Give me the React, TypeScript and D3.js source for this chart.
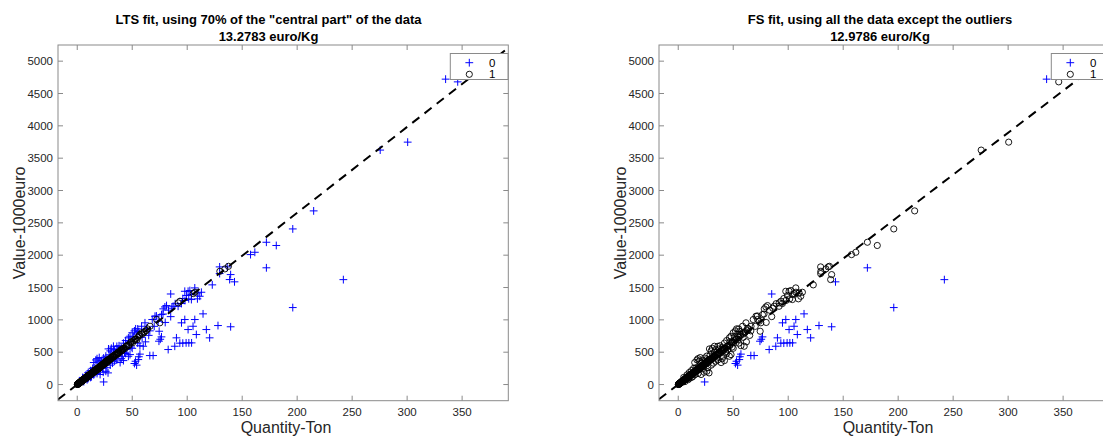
import React from 'react';
import * as d3 from 'd3';

// Quantity (ton), Value (1000 euro) pairs
// points fitted well by both LTS (circles in left) and FS (circles in right)
const centralPoints: [number, number][] = [
  [0.1, 2], [0.2, 2], [0.3, 5], [0.4, 4], [0.5, 8], [0.6, 7], [0.7, 10], [0.8, 9], [0.9, 13], [1.0, 12],
  [1.1, 16], [1.2, 15], [1.4, 17], [1.5, 21], [1.6, 20], [1.8, 22], [1.9, 27], [2.0, 25], [2.2, 30], [2.3, 28],
  [2.5, 35], [2.6, 33], [2.8, 36], [3.0, 42], [3.1, 39], [3.3, 45], [3.5, 44], [3.6, 50], [3.8, 48], [4.0, 55],
  [4.1, 52], [4.3, 59], [4.5, 57], [4.7, 64], [4.9, 62], [5.1, 70], [5.3, 67], [5.5, 75], [5.7, 73], [5.9, 81],
  [6.1, 78], [6.4, 87], [6.6, 84], [6.9, 94], [7.1, 91], [7.4, 100], [7.7, 98], [8.0, 108], [8.2, 104], [8.5, 115],
  [8.8, 112], [9.1, 123], [9.4, 119], [9.7, 131], [10.0, 128], [10.4, 140], [10.7, 136], [11.1, 149], [11.5, 147],
  [11.9, 160], [12.3, 157], [12.7, 171], [13.1, 168], [13.6, 183], [14.0, 180], [14.5, 195], [15.0, 192],
  [15.5, 209], [16.0, 205], [16.5, 222], [17.0, 218], [17.6, 236], [18.2, 233], [18.8, 252], [19.4, 249],
  [20.0, 268], [20.7, 266], [21.4, 287], [22.1, 284], [22.9, 306], [23.7, 304], [24.5, 328], [25.3, 325],
  [26.2, 350], [27.1, 347], [28.0, 374], [29.0, 372], [30.0, 401], [31.0, 398], [32.1, 428], [33.2, 426],
  [34.3, 457], [35.5, 455], [36.7, 488], [38.0, 487], [39.3, 524], [40.7, 522], [42.1, 561], [43.6, 560],
  [45.2, 602], [46.8, 600], [48.5, 646], [50.3, 645], [52.2, 694], [54.2, 693], [56.3, 752], [57.0, 773],
  [58.5, 799], [60.4, 800], [62.7, 833], [66.2, 901], [72.2, 1005], [75.1, 954], [91.8, 1263], [93.4, 1288],
  [105.5, 1406], [107.0, 1427], [129.7, 1751], [134.3, 1788], [137.5, 1828],
  [3.0, 36], [5.0, 60], [8.0, 95], [10.0, 120], [12.0, 150], [15.0, 185], [18.0, 225], [20.0, 255],
  [3.0, 48], [6.0, 88], [9.0, 130], [11.0, 155], [14.0, 195], [16.0, 225], [19.0, 265], [22.0, 300],
  [25.0, 345], [28.0, 385], [31.0, 415], [24.0, 310], [27.0, 370], [33.0, 445], [36.0, 470], [40.0, 540],
  [0.5, 5], [1.0, 10], [1.5, 18], [2.0, 22], [2.5, 30], [3.5, 40], [4.0, 48], [4.5, 62], [5.5, 68], [6.0, 72],
  [6.5, 90], [7.0, 85], [7.5, 105], [8.5, 105], [9.0, 110], [9.5, 128], [10.5, 145], [11.0, 140], [12.0, 165],
  [13.0, 175], [13.5, 170], [14.5, 185], [15.5, 200], [16.5, 230], [17.0, 210], [18.5, 245], [19.5, 240],
  [21.0, 285], [21.0, 270], [23.0, 295], [23.0, 315], [25.0, 320], [26.0, 355], [27.0, 340], [29.0, 380],
  [29.0, 395], [30.0, 390], [32.0, 420], [32.0, 435], [34.0, 450], [35.0, 470], [37.0, 480], [37.0, 500],
  [39.0, 510], [41.0, 545], [42.0, 550], [44.0, 585], [45.0, 590], [47.0, 615], [49.0, 660], [51.0, 675],
  [53.0, 705], [55.0, 730], [59.0, 780], [61.0, 815], [64.0, 860],
];

// points flagged by LTS (pluses in left) but kept by FS (circles in right)
const fsOnlyPoints: [number, number][] = [
  [157.6, 2009], [161.5, 2045], [172, 2200], [181, 2150], [196, 2406], [215, 2685], [275.5, 3625],
  [300.5, 3748], [346, 4680],
  [129.5, 1819], [129.5, 1716], [136.4, 1819], [139.5, 1700], [138.6, 1623], [122.8, 1541],
  [106.9, 1494], [102.4, 1453], [99.3, 1376], [103.8, 1391], [109.9, 1417], [112.9, 1427], [111.4, 1365],
  [109.3, 1325], [103.8, 1314], [101.4, 1325], [97.8, 1442], [100.8, 1442],
  [94.7, 1252], [91.7, 1210], [87.2, 1210], [81.2, 1221], [78.2, 1170], [79.7, 1200], [76.6, 1082],
  [73.6, 978], [74.5, 824], [70.7, 1056], [68.2, 1005], [61.6, 954], [58.5, 901], [53.1, 861], [48, 747],
  [46.5, 722], [32.9, 592], [28.4, 551], [50, 800], [55, 860], [52, 830],
  [5, 110], [8, 150], [10, 185], [12, 215], [15, 340], [17, 380], [18, 400], [19, 360], [20, 417], [14, 250],
  [22, 370], [24, 410], [26, 440], [30, 520], [31, 560], [34, 540], [36, 590], [38, 600], [40, 570], [42, 640],
  [44, 680],
  [6, 45], [9, 75], [12, 110], [15, 150], [18, 170], [20.8, 155], [23.6, 190], [26, 205], [28, 180], [30, 300],
  [32, 330], [34, 360], [36, 380], [39, 340], [40, 400], [41, 437], [42, 370], [44, 480], [46.5, 437],
  [48, 463], [45, 540], [50, 560], [55, 640], [57, 600], [60, 592], [62, 660], [65, 760], [80, 960], [85, 1050],
  [10, 95], [13, 120], [16, 260], [21, 330], [23, 250], [25, 380], [27, 260], [29, 460], [33, 500], [35, 410],
  [37, 550], [43, 500], [47, 660], [49, 580], [51, 740], [54, 780], [56, 820], [59, 730], [63, 870], [66, 830],
  [70, 900], [72, 1060], [78, 1090], [83, 1150], [86, 1180], [89, 1250], [96, 1330], [98, 1300],
];

// points flagged as outliers by both fits (pluses in both panels)
const outlierPoints: [number, number][] = [
  [24, 40], [85, 1400], [52, 325], [53, 360], [55.5, 386], [56, 430], [57, 470], [54, 300], [66, 448], [69, 448],
  [74.3, 670], [75.5, 700], [76.6, 737], [82.7, 541], [88.7, 592], [90.2, 722], [93.3, 640], [96, 640],
  [99, 644], [101.5, 644], [104, 644], [94.8, 954], [97.8, 1005], [106.9, 1005], [100.8, 850], [105.3, 901],
  [108.3, 773], [114.4, 1093], [117.4, 850], [120.4, 722], [128, 912], [139.5, 893], [143, 1588],
  [172, 1805], [196, 1190], [242, 1622], [335, 4722],
];

const ltsSlope = 13.2783;
const fsSlope = 12.9786;
const ltsTitle = ['LTS fit, using 70% of the "central part" of the data', '13.2783 euro/Kg'];
const fsTitle = ['FS fit, using all the data except the outliers', '12.9786 euro/Kg'];
const xTicks = [0, 50, 100, 150, 200, 250, 300, 350];
const yTicks = [0, 500, 1000, 1500, 2000, 2500, 3000, 3500, 4000, 4500, 5000];
const legendLabels = ['0', '1'];
const xLabel = 'Quantity-Ton';
const yLabel = 'Value-1000euro';
const xDomain = [-17.5, 392];
const yDomain = [-250, 5250];

const FONT = '"Liberation Sans", Arial, Helvetica, sans-serif';
const AXIS = '#8a8a8a';
const TEXT = '#262626';
const BLUE = '#0000ff';

type PanelProps = {
  id: string;
  left: number;
  right: number;
  titleX: number;
  xLabelX: number;
  title: string[];
  slope: number;
  pluses: [number, number][];
  circles: [number, number][];
};

function Plus({ x, y }: { x: number; y: number }) {
  const s = 3.9;
  return (
    <path d={`M${x - s},${y}H${x + s}M${x},${y - s}V${y + s}`} stroke={BLUE} strokeWidth={1} fill="none" />
  );
}

function Panel({ id, left, right, titleX, xLabelX, title, slope, pluses, circles }: PanelProps) {
  const top = 45;
  const bottom = 400.7;
  const x = d3.scaleLinear().domain(xDomain).range([left, right]);
  const y = d3.scaleLinear().domain(yDomain).range([bottom, top]);
  const lineGen = d3
    .line<number>()
    .x((q) => x(q))
    .y((q) => y(q * slope));
  const tick = 5;
  const lx = right - 58;
  return (
    <g>
      <defs>
        <clipPath id={id}>
          <rect x={left} y={top} width={right - left} height={bottom - top} />
        </clipPath>
      </defs>
      <rect x={left} y={top} width={right - left} height={bottom - top} fill="#fff" stroke="none" />
      <g clipPath={`url(#${id})`}>
        {pluses.map((p, i) => (
          <Plus key={'p' + i} x={x(p[0])} y={y(p[1])} />
        ))}
        {circles.map((p, i) => (
          <circle key={'c' + i} cx={x(p[0])} cy={y(p[1])} r={3.1} fill="none" stroke="#000" strokeWidth={0.9} />
        ))}
        <path
          d={lineGen(xDomain) || ''}
          stroke="#000"
          strokeWidth={2}
          strokeDasharray="9 6.5"
          fill="none"
        />
      </g>
      <rect x={left} y={top} width={right - left} height={bottom - top} fill="none" stroke={AXIS} strokeWidth={1} />
      {xTicks.map((t) => (
        <g key={'xt' + t}>
          <line x1={x(t)} x2={x(t)} y1={bottom} y2={bottom - tick} stroke={AXIS} />
          <line x1={x(t)} x2={x(t)} y1={top} y2={top + tick} stroke={AXIS} />
          <text x={x(t)} y={416} textAnchor="middle" fontSize={11.5} fill={TEXT} fontFamily={FONT}>
            {t}
          </text>
        </g>
      ))}
      {yTicks.map((t) => (
        <g key={'yt' + t}>
          <line x1={left} x2={left + tick} y1={y(t)} y2={y(t)} stroke={AXIS} />
          <line x1={right} x2={right - tick} y1={y(t)} y2={y(t)} stroke={AXIS} />
          <text x={left - 5} y={y(t) + 4} textAnchor="end" fontSize={11.5} fill={TEXT} fontFamily={FONT}>
            {t}
          </text>
        </g>
      ))}
      {title.map((t, i) => (
        <text key={'ti' + i} x={titleX} y={24 + i * 17} textAnchor="middle" fontSize={13} fontWeight="bold" fill="#000" fontFamily={FONT}>
          {t}
        </text>
      ))}
      <text x={xLabelX} y={433} textAnchor="middle" fontSize={16} fill={TEXT} fontFamily={FONT}>
        {xLabel}
      </text>
      <text
        transform={`translate(${left - 33},${(top + bottom) / 2}) rotate(-90)`}
        textAnchor="middle"
        fontSize={16}
        fill={TEXT}
        fontFamily={FONT}
      >
        {yLabel}
      </text>
      <rect x={lx} y={53.5} width={57.7} height={26} fill="#fff" stroke={AXIS} strokeWidth={1} />
      <Plus x={lx + 19} y={62.7} />
      <circle cx={lx + 19} cy={74.3} r={3.1} fill="none" stroke="#000" strokeWidth={0.9} />
      {legendLabels.map((l, i) => (
        <text key={'lg' + i} x={lx + 42} y={62.7 + i * 11.6 + 4} textAnchor="middle" fontSize={11.5} fill="#000" fontFamily={FONT}>
          {l}
        </text>
      ))}
    </g>
  );
}

export default function App() {
  const ltsPluses = [...fsOnlyPoints, ...outlierPoints];
  const fsCircles = [...centralPoints, ...fsOnlyPoints];
  return (
    <svg
      width={1103}
      height={436}
      style={{ position: 'absolute', left: 0, top: 0, background: '#fff' }}
      xmlns="http://www.w3.org/2000/svg"
    >
      <rect x={0} y={0} width={1103} height={436} fill="#fff" />
      <Panel
        id="clipL"
        left={58}
        right={508.3}
        titleX={268.5}
        xLabelX={286}
        title={ltsTitle}
        slope={ltsSlope}
        pluses={ltsPluses}
        circles={centralPoints}
      />
      <Panel
        id="clipR"
        left={659}
        right={1109.3}
        titleX={880}
        xLabelX={888}
        title={fsTitle}
        slope={fsSlope}
        pluses={outlierPoints}
        circles={fsCircles}
      />
    </svg>
  );
}
